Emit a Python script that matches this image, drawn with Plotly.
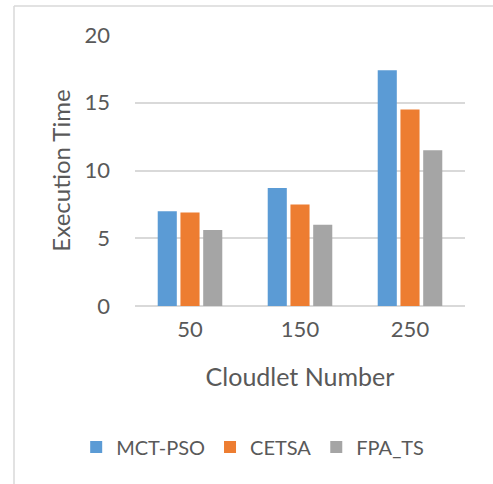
import plotly.graph_objects as go

categories = ["50", "150", "250"]
mct_pso = [7.0, 8.7, 17.4]
cetsa = [6.9, 7.5, 14.5]
fpa_ts = [5.6, 6.0, 11.5]

colors = ["#5B9BD5", "#ED7D31", "#A5A5A5"]
font_family = "Lato, 'Open Sans', sans-serif"
text_color = "#595959"

W, H = 493, 484
L, R, T, B = 135, 28, 35, 178
pw, ph = W - L - R, H - T - B

fig = go.Figure()
for name, vals, c in [("MCT-PSO", mct_pso, colors[0]), ("CETSA", cetsa, colors[1]), ("FPA_TS", fpa_ts, colors[2])]:
    fig.add_trace(go.Bar(x=categories, y=vals, name=name, marker=dict(color=c, line=dict(width=0))))

def px_x(p):
    return (p - L) / pw

def px_y(p):
    return (H - B - p) / ph

fig.update_layout(
    width=W, height=H,
    margin=dict(l=L, r=R, t=T, b=B, autoexpand=False),
    paper_bgcolor="white", plot_bgcolor="white",
    barmode="group", bargap=0.38, bargroupgap=0.16,
    font=dict(family=font_family, color=text_color, size=20),
    xaxis=dict(
        title=dict(text="Cloudlet Number", font=dict(size=25), standoff=27),
        showgrid=False, ticks="", tickfont=dict(size=22), showline=False,
        ticklabelstandoff=8, automargin=False,
    ),
    yaxis=dict(
        title=dict(text="Execution Time", font=dict(size=24), standoff=7),
        range=[0, 20], dtick=5, showgrid=True, gridcolor="#D9D9D9", gridwidth=1.5,
        zeroline=True, zerolinecolor="#D9D9D9", zerolinewidth=1.5,
        showline=False, ticks="", tickfont=dict(size=22), ticklabelstandoff=24,
        automargin=False,
    ),
    legend=dict(
        orientation="h", x=px_x(95) - 0.057, xanchor="left", y=px_y(447), yanchor="middle",
        font=dict(size=20), itemsizing="constant", traceorder="normal",
    ),
    shapes=[
        dict(type="line", xref="paper", yref="paper", x0=px_x(14), x1=px_x(14), y0=px_y(6), y1=px_y(484),
             line=dict(color="#D9D9D9", width=1.5)),
        dict(type="line", xref="paper", yref="paper", x0=px_x(14), x1=px_x(493), y0=px_y(6), y1=px_y(6),
             line=dict(color="#D9D9D9", width=1.5)),
    ],
)

fig.write_html(
    "out.html",
    config={"displayModeBar": False},
    post_script="document.body.style.margin='0';document.body.style.overflow='hidden';",
)
